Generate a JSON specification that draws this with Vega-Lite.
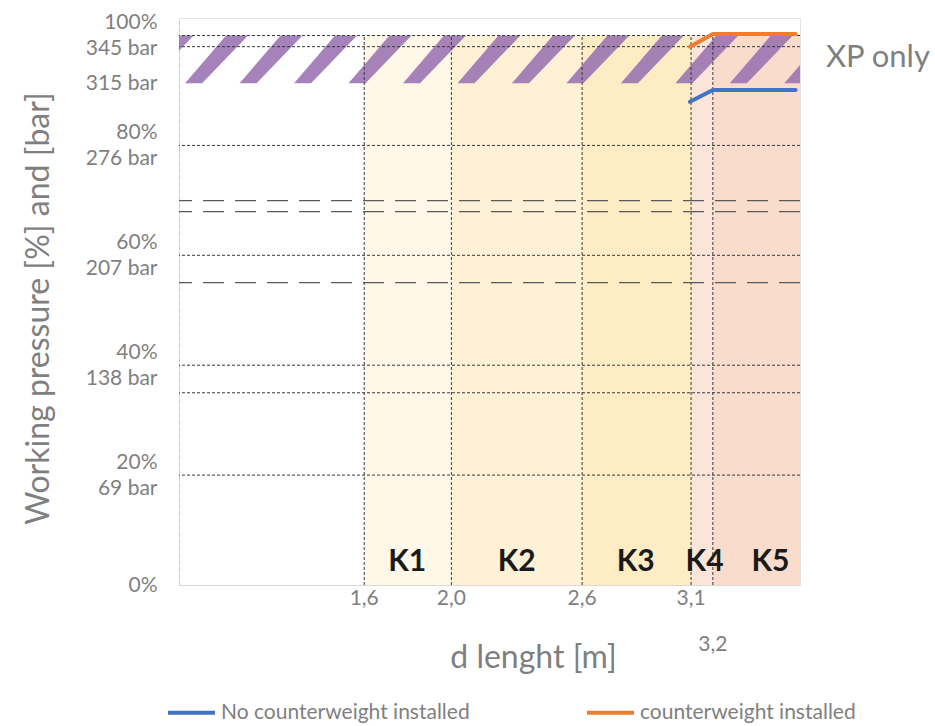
{
  "$schema": "https://vega.github.io/schema/vega-lite/v6.json",
  "width": 621,
  "height": 567,
  "autosize": {"type": "none"},
  "padding": {"left": 179, "top": 18, "right": 135, "bottom": 141},
  "background": "white",
  "config": {"view": {"stroke": "#e3e3e3"}, "font": "Lato"},
  "datasets": {
    "bands": [
      {"zone": "K1", "start": 1.6, "end": 2.0},
      {"zone": "K2", "start": 2.0, "end": 2.6},
      {"zone": "K3", "start": 2.6, "end": 3.1},
      {"zone": "K4", "start": 3.1, "end": 3.2},
      {"zone": "K5", "start": 3.2, "end": 3.6}
    ],
    "hatch": [
      {"stripe": -1, "p": 315, "left": 0.528, "right": 0.606}, {"stripe": -1, "p": 345, "left": 0.716, "right": 0.817},
      {"stripe": 0, "p": 315, "left": 0.778, "right": 0.856}, {"stripe": 0, "p": 345, "left": 0.966, "right": 1.067},
      {"stripe": 1, "p": 315, "left": 1.028, "right": 1.106}, {"stripe": 1, "p": 345, "left": 1.216, "right": 1.317},
      {"stripe": 2, "p": 315, "left": 1.278, "right": 1.356}, {"stripe": 2, "p": 345, "left": 1.466, "right": 1.567},
      {"stripe": 3, "p": 315, "left": 1.528, "right": 1.606}, {"stripe": 3, "p": 345, "left": 1.716, "right": 1.817},
      {"stripe": 4, "p": 315, "left": 1.778, "right": 1.856}, {"stripe": 4, "p": 345, "left": 1.966, "right": 2.067},
      {"stripe": 5, "p": 315, "left": 2.028, "right": 2.106}, {"stripe": 5, "p": 345, "left": 2.216, "right": 2.317},
      {"stripe": 6, "p": 315, "left": 2.278, "right": 2.356}, {"stripe": 6, "p": 345, "left": 2.466, "right": 2.567},
      {"stripe": 7, "p": 315, "left": 2.528, "right": 2.606}, {"stripe": 7, "p": 345, "left": 2.716, "right": 2.817},
      {"stripe": 8, "p": 315, "left": 2.778, "right": 2.856}, {"stripe": 8, "p": 345, "left": 2.966, "right": 3.067},
      {"stripe": 9, "p": 315, "left": 3.028, "right": 3.106}, {"stripe": 9, "p": 345, "left": 3.216, "right": 3.317},
      {"stripe": 10, "p": 315, "left": 3.278, "right": 3.356}, {"stripe": 10, "p": 345, "left": 3.466, "right": 3.567},
      {"stripe": 11, "p": 315, "left": 3.528, "right": 3.606}, {"stripe": 11, "p": 345, "left": 3.716, "right": 3.817}
    ],
    "grid": [{"p": 69}, {"p": 120.7}, {"p": 138}, {"p": 207}, {"p": 276}, {"p": 338}, {"p": 345}],
    "limits": [{"p": 189.8}, {"p": 234.4}, {"p": 241.3}],
    "vlines": [{"d": 1.6}, {"d": 2.0}, {"d": 2.6}, {"d": 3.1}, {"d": 3.2}],
    "xticks": [
      {"d": 1.6, "label": "1,6"},
      {"d": 2.0, "label": "2,0"},
      {"d": 2.6, "label": "2,6"},
      {"d": 3.1, "label": "3,1"}
    ],
    "xticklow": [{"d": 3.2, "label": "3,2"}],
    "series": [
      {"series": "No counterweight installed", "d": 3.095, "p": 303.4},
      {"series": "No counterweight installed", "d": 3.2, "p": 310.8},
      {"series": "No counterweight installed", "d": 3.58, "p": 310.8},
      {"series": "counterweight installed", "d": 3.095, "p": 338},
      {"series": "counterweight installed", "d": 3.2, "p": 346},
      {"series": "counterweight installed", "d": 3.58, "p": 346}
    ],
    "klabels": [
      {"label": "K1", "d": 1.797},
      {"label": "K2", "d": 2.3},
      {"label": "K3", "d": 2.846},
      {"label": "K4", "d": 3.162},
      {"label": "K5", "d": 3.464}
    ],
    "notes": [{"label": "XP only", "d": 3.719, "p": 331}]
  },
  "layer": [
    {
      "data": {"name": "bands"},
      "mark": {"type": "rect"},
      "encoding": {
        "x": {
          "field": "start", "type": "quantitative",
          "scale": {"domain": [0.75, 3.6], "nice": false, "zero": false},
          "axis": {
            "values": [1.6, 2.0, 2.6, 3.1, 3.2],
            "labels": false,
            "ticks": false, "grid": false,
            "domainColor": "#d9d9d9",
            "title": "d lenght [m]", "titleFontSize": 32, "titleColor": "#7f7f7f",
            "titleFontWeight": "normal", "titleFont": "Lato",
            "titleX": 354, "titleY": 72, "titleBaseline": "middle", "titleAlign": "center"
          }
        },
        "x2": {"field": "end"},
        "y": {
          "datum": 0, "type": "quantitative",
          "scale": {"domain": [0, 356], "nice": false, "zero": false},
          "axis": {
            "values": [0, 69, 138, 207, 276, 315, 345],
            "labelExpr": "datum.value == 0 ? '0%' : datum.value == 69 ? ['20%','69 bar'] : datum.value == 138 ? ['40%','138 bar'] : datum.value == 207 ? ['60%','207 bar'] : datum.value == 276 ? ['80%','276 bar'] : datum.value == 315 ? '315 bar' : ['100%','345 bar']",
            "ticks": false, "grid": false,
            "domainColor": "#c8c8c8", "domainDash": [4, 3],
            "labelFontSize": 21, "labelColor": "#7f7f7f", "labelFont": "Lato",
            "labelPadding": 22, "labelLineHeight": 26,
            "labelOffset": {"condition": {"test": "datum.value == 0 || datum.value == 315", "value": 0}, "value": -13},
            "labelOverlap": false, "labelBound": false, "labelFlush": false,
            "title": "Working pressure [%] and [bar]", "titleFontSize": 32, "titleColor": "#7f7f7f",
            "titleFontWeight": "normal", "titleFont": "Lato",
            "titleX": -141, "titleY": 290, "titleAngle": -90, "titleAlign": "center", "titleBaseline": "middle"
          }
        },
        "y2": {"datum": 345},
        "color": {
          "field": "zone", "type": "nominal",
          "scale": {"domain": ["K1", "K2", "K3", "K4", "K5"], "range": ["#FFF8E8", "#FEF1D5", "#FDECC4", "#FBE5D9", "#F9DCCB"]},
          "legend": null
        }
      }
    },
    {
      "data": {"name": "hatch"},
      "mark": {"type": "area", "orient": "horizontal", "clip": true, "color": "#9B74B1", "opacity": 0.9},
      "encoding": {
        "y": {"field": "p", "type": "quantitative"},
        "x": {"field": "left", "type": "quantitative"},
        "x2": {"field": "right"},
        "detail": {"field": "stripe", "type": "nominal"}
      }
    },
    {
      "data": {"name": "grid"},
      "mark": {"type": "rule", "color": "#3a3a3a", "strokeWidth": 1, "strokeDash": [3, 2]},
      "encoding": {"y": {"field": "p", "type": "quantitative"}}
    },
    {
      "data": {"name": "limits"},
      "mark": {"type": "rule", "color": "#5a5a5a", "strokeWidth": 1.3, "strokeDash": [21, 11]},
      "encoding": {"y": {"field": "p", "type": "quantitative"}}
    },
    {
      "data": {"name": "vlines"},
      "mark": {"type": "rule", "color": "#3a3a3a", "strokeWidth": 1, "strokeDash": [3, 2]},
      "encoding": {
        "x": {"field": "d", "type": "quantitative"},
        "y": {"datum": 0, "type": "quantitative"},
        "y2": {"datum": 345}
      }
    },
    {
      "data": {"name": "xticks"},
      "mark": {"type": "text", "font": "Lato", "fontSize": 21, "color": "#7f7f7f", "baseline": "middle", "align": "center", "clip": false},
      "encoding": {
        "x": {"field": "d", "type": "quantitative"},
        "y": {"datum": -8.5, "type": "quantitative"},
        "text": {"field": "label"}
      }
    },
    {
      "data": {"name": "xticklow"},
      "mark": {"type": "text", "font": "Lato", "fontSize": 21, "color": "#7f7f7f", "baseline": "middle", "align": "center", "clip": false},
      "encoding": {
        "x": {"field": "d", "type": "quantitative"},
        "y": {"datum": -37.5, "type": "quantitative"},
        "text": {"field": "label"}
      }
    },
    {
      "data": {"name": "series"},
      "mark": {"type": "line", "strokeWidth": 4, "strokeCap": "round", "strokeJoin": "round"},
      "encoding": {
        "x": {"field": "d", "type": "quantitative"},
        "y": {"field": "p", "type": "quantitative"},
        "color": {
          "field": "series", "type": "nominal",
          "scale": {"domain": ["No counterweight installed", "counterweight installed"], "range": ["#4472C4", "#ED7D31"]},
          "legend": {
            "orient": "none", "legendX": -13, "legendY": 669, "direction": "horizontal", "columns": 2,
            "title": null, "symbolType": "stroke", "symbolSize": 2209, "symbolStrokeWidth": 4,
            "labelFontSize": 21, "labelColor": "#7f7f7f", "labelFont": "Lato", "labelLimit": 400,
            "columnPadding": 109, "labelOffset": 4, "padding": 0
          }
        }
      }
    },
    {
      "data": {"name": "klabels"},
      "mark": {"type": "text", "font": "Lato", "fontWeight": "bold", "fontSize": 30, "color": "#1a1a1a", "baseline": "middle", "align": "center"},
      "encoding": {
        "x": {"field": "d", "type": "quantitative"},
        "y": {"datum": 14.4, "type": "quantitative"},
        "text": {"field": "label"}
      }
    },
    {
      "data": {"name": "notes"},
      "mark": {"type": "text", "font": "Lato", "fontSize": 31, "color": "#7f7f7f", "baseline": "middle", "align": "left"},
      "encoding": {
        "x": {"field": "d", "type": "quantitative"},
        "y": {"field": "p", "type": "quantitative"},
        "text": {"field": "label"}
      }
    }
  ],
  "resolve": {"scale": {"color": "independent"}}
}
